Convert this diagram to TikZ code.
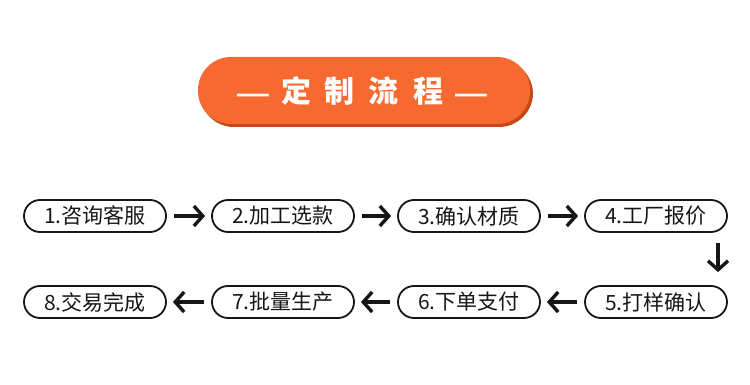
\documentclass[tikz,border=0pt]{standalone}
\usepackage{fontspec}
\setmainfont{Noto Sans CJK SC}
\usepackage{graphicx}
\usetikzlibrary{arrows.meta}
\definecolor{banner}{RGB}{246,106,50}
\definecolor{bannerd}{RGB}{196,72,24}
\definecolor{ink}{RGB}{22,22,22}
\tikzset{
  stepbox/.style={draw=ink,line width=1.8pt,rounded corners=16pt,
    minimum width=142pt,minimum height=32pt,inner sep=0pt,
    font=\fontsize{21}{23}\selectfont,text=ink},
  flow/.style={ink,line width=3.4pt,-{Straight Barb[length=9pt,width=20pt]}}
}
\newcommand{\tdash}{\scalebox{1.3}[0.8]{—}}

\begin{document}
\begin{tikzpicture}[x=1pt,y=-1pt]
  \useasboundingbox (0,0) rectangle (750,385);
  % title banner
  \fill[bannerd,rounded corners=34pt] (200,60) rectangle (533,127);
  \fill[banner,rounded corners=33pt] (198,57) rectangle (530,124);
  \node[text=white,font=\bfseries\fontsize{30}{32}\selectfont] (title) at (362,91)
    {\tdash\hspace{10pt}定\hspace{14pt}制\hspace{14pt}流\hspace{14pt}程\hspace{10pt}\tdash};
  % process steps
  \foreach \i/\x/\y/\txt in {1/95/216/咨询客服,2/283/216/加工选款,3/469/216/确认材质,
      4/656/216/工厂报价,5/656/302/打样确认,6/469/302/下单支付,7/283/302/批量生产,
      8/95/302/交易完成}
    \node[stepbox] (s\i) at (\x,\y) {\i.\txt};
  % connectors
  \foreach \a/\b in {1/2,2/3,3/4,5/6,6/7,7/8}
    \draw[flow,shorten <=7pt,shorten >=6pt] (s\a) -- (s\b);
  \draw[flow,shorten <=10pt,shorten >=13pt] ([xshift=62pt]s4.south) -- ([xshift=62pt]s5.north);
\end{tikzpicture}
\end{document}
